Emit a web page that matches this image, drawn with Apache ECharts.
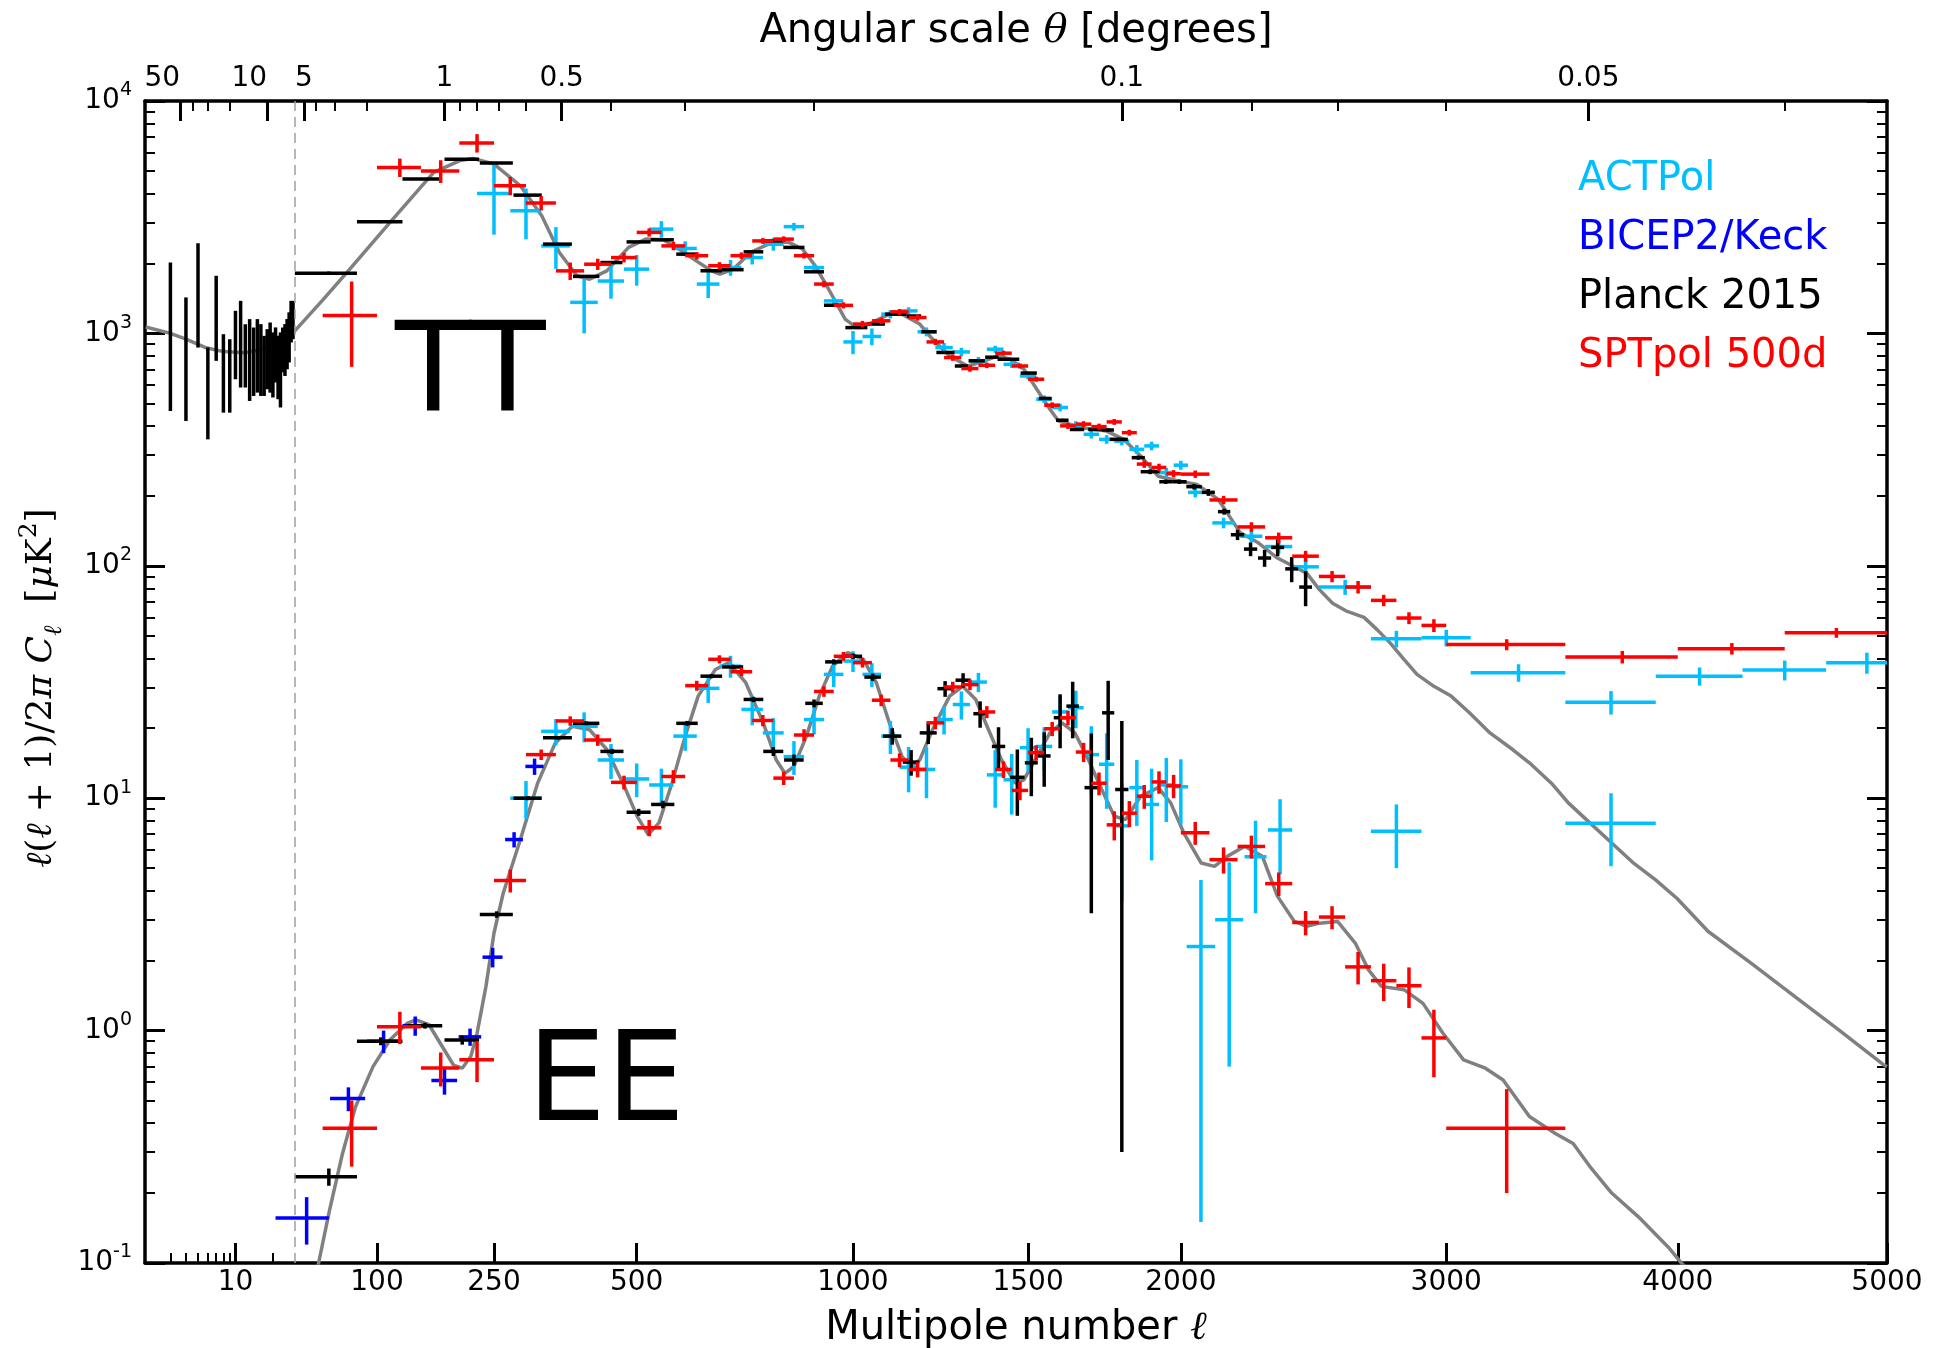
<!DOCTYPE html>
<html>
<head>
<meta charset="utf-8">
<title>CMB TT / EE band powers</title>
<script src="https://cdn.jsdelivr.net/npm/echarts@6/dist/echarts.min.js"></script>
<style>
  html, body { margin: 0; padding: 0; background: #fff; }
  #chart { width: 1934px; height: 1348px; }
</style>
</head>
<body>
<div id="chart"></div>
<script>
// ---- data: [ell, D_ell] for curves, [ell, D_ell, half bin width, sigma] for points ----
const ttTheory = [[1.9,1065],[3,1000],[4,945],[5.7,870],[8,835],[11.8,825],[15,845],[19,885],[24,950],[30,1026],[50,1390],[70.7,1829],[114,3004],[166,4931],[200,5530],[219,5663],[250,5354],[291,4318],[326,3206],[356,2230],[387,1770],[410,1711],[442,1858],[484,2344],[518,2545],[554,2528],[581,2344],[618,2088],[657,1860],[676,1798],[706,1888],[746,2230],[797,2461],[835,2476],[871,2307],[903,1954],[937,1549],[980,1150],[1010,1059],[1050,1113],[1097,1210],[1132,1210],[1181,1097],[1217,945],[1266,800],[1318,724],[1354,749],[1408,800],[1446,774],[1487,702],[1527,575],[1568,472],[1595,420],[1665,394],[1750,380],[1806,350],[1863,297],[1922,243],[1996,231],[2056,224],[2131,193],[2163,169],[2209,139],[2273,126],[2345,108],[2454,93],[2502,79],[2552,69],[2603,64],[2673,60],[2725,53],[2775,46.6],[2830,39.6],[2882,34.1],[2950,30.3],[3020,27.5],[3095,23.3],[3180,19.1],[3275,16.2],[3346,14.2],[3440,11.6],[3513,9.55],[3607,7.83],[3703,6.42],[3796,5.3],[3898,4.46],[3997,3.7],[4140,2.67],[4340,1.95],[4549,1.4],[4760,1.01],[4982,0.713],[5000,0.7]];

const eeTheory = [[44,0.085],[47,0.101],[55.6,0.169],[66.7,0.296],[78.7,0.471],[95.9,0.7],[114,0.913],[134,1.077],[144,1.113],[160,1.06],[177,0.854],[192,0.711],[204,0.689],[216,0.773],[225,0.973],[238,1.55],[250,2.63],[264,3.9],[291,6.64],[319,11.6],[349,17.3],[379,20.4],[410,19.7],[442,16.2],[476,11.2],[501,8.35],[523,6.97],[545,7.83],[572,11.6],[600,18.5],[628,27.5],[666,35.8],[696,38.3],[735,31.4],[776,21.1],[807,14.6],[828,12.8],[850,13.7],[881,18.5],[913,27.5],[947,37],[986,42.3],[1027,39.6],[1062,31.4],[1097,21.1],[1132,15.1],[1156,13.7],[1181,14.6],[1217,19.7],[1266,27.5],[1304,30.3],[1342,26.6],[1380,19.7],[1419,14.6],[1460,11.6],[1487,12],[1527,15.1],[1568,19.1],[1606,21.1],[1647,19.1],[1691,14.6],[1734,10.9],[1775,8.36],[1812,8.09],[1863,10.2],[1922,11.1],[1965,9.55],[2010,7.1],[2071,5.26],[2118,5.09],[2163,5.62],[2226,6.21],[2290,5.62],[2345,3.79],[2408,2.95],[2454,2.81],[2502,2.9],[2571,2.95],[2639,2.38],[2690,1.83],[2741,1.55],[2830,1.5],[2906,1.31],[2986,0.976],[3071,0.748],[3161,0.689],[3235,0.613],[3346,0.427],[3457,0.361],[3534,0.327],[3607,0.26],[3703,0.2],[3822,0.158],[3957,0.117],[4017,0.0998],[4100,0.085]];

const planckLowTT = [[3,1241,0,777],[4,924,0,504],[5,1656,0,787],[6,610,0,260],[7,1266,0,504],[8,724,0,268],[9,700,0,244],[10,943,0,308],[11,983,0,398],[12,840,0,255],[13,832,0,320],[14,799,0,261],[15,854,0,298],[16,817,0,279],[17,757,0,219],[18,809,0,234],[19,835,0,279],[20,770,0,240],[21,838,0,223],[22,749,0,228],[23,745,0,265],[24,870,0,190],[25,876,0,220],[26,927,0,226],[27,991,0,241],[28,1147,0,233],[29,1162,0,218]];

const planckTT = [[55,1815,25,30],[104,3020,24,40],[151,4614,23,50],[204,5610,24,60],[254,5408,25,60],[303,3935,23,45],[353,2422,25,30],[404,1759,24,25],[451,2018,21,25],[504,2476,24,25],[552,2528,24,25],[603,2193,22,22],[657,1860,24,20],[705,1880,25,20],[753,2244,23,20],[800,2501,24,22],[850,2344,26,20],[900,1841,25,18],[948,1322,23,15],[1009,1059,29,12],[1061,1097,24,12],[1115,1210,30,12],[1165,1188,20,12],[1207,1016,22,12],[1254,828,26,10],[1300,724,19,9],[1345,762,24,9],[1390,790,20,9],[1440,774,33,9],[1502,675,25,8],[1553,525,20,7],[1607,423,20,6],[1654,386,23,6],[1712,386,22,6],[1754,384,20,6],[1790,350,30,6],[1855,292,22,6],[1895,254,32,6],[1948,230,22,5],[1995,230,25,5],[2046,219,27,6],[2096,207,23,7],[2152,171,22,5],[2200,136,24,7],[2247,118,24,8],[2298,108,24,9],[2346,120,24,10],[2398,97,24,12],[2450,81,24,14]];

const planckEE = [[55,0.235,25,0.02],[104,0.9,24,0.035],[155,1.05,22,0.03],[204,0.91,24,0.04],[254,3.16,25,0.1],[303,10,23,0.2],[353,18.2,25,0.3],[404,21,24,0.4],[452,15.9,22,0.4],[504,8.7,24,0.3],[553,9.4,24,0.35],[604,21,23,0.5],[657,33.5,24,0.7],[705,36.7,24,0.8],[753,26.6,23,0.7],[800,15.9,24,0.7],[850,14.6,24,0.8],[900,25.6,22,1],[950,38.6,22,1],[1000,40.8,24,1.1],[1052,33.2,22,1.2],[1105,18.5,25,1.5],[1157,14.3,23,1.8],[1205,19.1,24,2],[1253,29.6,22,2.3],[1305,32.2,22,2.3],[1355,23.1,20,3],[1410,16.7,20,3.5],[1467,12.3,22,3.9],[1510,14.2,20,4],[1550,15.2,20,4],[1600,22.2,20,5.8],[1640,24.9,20,6.8],[1700,11.1,22,7.9],[1755,23.3,20,8.7],[1800,10.9,22,10.6]];

const sptTT = [[75,1195,25,477],[125,5180,25,470],[175,5000,25,560],[225,6600,25,600],[275,4320,25,390],[325,3640,25,260],[375,1858,25,160],[425,1985,25,110],[475,2120,25,100],[525,2720,25,110],[575,2380,25,100],[625,2160,25,80],[675,1955,25,70],[725,2160,25,70],[775,2500,25,70],[825,2545,25,70],[875,2160,25,60],[925,1630,25,50],[975,1320,25,40],[1025,1097,25,35],[1075,1133,25,35],[1125,1238,25,35],[1175,1170,25,35],[1225,919,25,28],[1275,787,25,25],[1325,706,25,22],[1375,729,25,20],[1425,822,25,20],[1475,724,25,18],[1525,635,25,16],[1575,491,25,14],[1625,400,25,12],[1675,407,25,12],[1725,397,25,12],[1775,416,25,12],[1825,374,25,11],[1875,274,25,10],[1925,265,25,10],[1975,249,25,9],[2050,248,50,9],[2150,192,50,8],[2250,147,50,7],[2350,132,50,7],[2450,110,50,6],[2550,90,50,5],[2650,81,50,5],[2750,71,50,4],[2850,59.6,50,3.5],[2950,55.4,50,3.5],[3250,45.8,250,2.5],[3750,40.5,250,2.5],[4250,44,250,2.5],[4750,51.5,250,2.5]];

const sptEE = [[75,0.38,25,0.12],[125,1.04,25,0.165],[175,0.69,25,0.115],[225,0.75,25,0.15],[275,4.43,25,0.5],[325,15.4,25,0.8],[375,21.5,25,1],[425,17.8,25,1],[475,11.7,25,0.8],[525,7.46,25,0.6],[575,12.4,25,0.8],[625,30.5,25,1.5],[675,39.6,25,1.6],[725,35,25,1.5],[775,21.6,25,1.2],[825,12.2,25,0.8],[875,18.7,25,1.1],[925,28.8,25,1.5],[975,40.8,25,1.8],[1025,38.3,25,1.8],[1075,26.4,25,1.5],[1125,14.6,25,1],[1175,13.3,25,1],[1225,21.1,25,1.3],[1275,30.1,25,1.6],[1325,30.8,25,1.6],[1375,23.5,25,1.4],[1425,13.3,25,1.1],[1475,10.8,25,1],[1525,15.7,25,1.2],[1575,19.9,25,1.4],[1625,22.2,25,1.6],[1675,15.8,25,1.5],[1725,11.6,25,1.3],[1775,7.68,25,1.1],[1825,8.62,25,1.1],[1875,10.2,25,1.2],[1925,11.75,25,1.3],[1975,11.3,25,1.3],[2050,7.1,50,0.8],[2150,5.44,50,0.7],[2250,6.2,50,0.7],[2350,4.29,50,0.5],[2450,2.92,50,0.35],[2550,3.08,50,0.35],[2650,1.88,50,0.3],[2750,1.64,50,0.3],[2850,1.56,50,0.31],[2950,0.93,50,0.3],[3250,0.38,250,0.18]];

const actTT = [[250,4000,25,1340],[300,3370,25,830],[350,2380,25,485],[400,1360,25,360],[450,1680,25,270],[500,1890,25,285],[550,2810,25,230],[600,2320,25,170],[650,1630,25,210],[700,1920,25,150],[750,2120,25,140],[800,2420,25,150],[850,2880,25,110],[900,1920,25,60],[950,1380,25,40],[1000,919,25,105],[1050,970,25,80],[1100,1210,25,50],[1150,1250,25,45],[1200,1016,25,45],[1250,869,25,40],[1300,832,25,35],[1350,762,25,30],[1400,855,25,30],[1450,736,25,25],[1500,656,25,22],[1550,521,25,20],[1600,480,25,18],[1650,403,25,16],[1700,368,25,15],[1750,350,25,15],[1800,344,25,14],[1850,317,25,14],[1900,328,25,14],[1950,252,25,12],[2000,271,25,12],[2050,207,25,10],[2150,153,40,8],[2250,134,40,8],[2350,121,50,8],[2450,99,50,7],[2600,81,100,6],[2800,48.5,100,4],[3000,49,100,4],[3300,34.7,200,3],[3700,25.9,200,3],[4100,33.5,200,3],[4500,35.6,200,3.5],[4900,38.3,200,4]];

const actEE = [[300,10,25,1.85],[350,19.4,25,2.5],[400,20.4,25,3],[450,14.6,25,2.5],[500,12.1,25,2],[550,11.4,25,2],[600,18.5,25,2.5],[650,29.7,25,4],[700,37,25,4],[750,24.1,25,3.5],[800,19.1,25,3],[850,15.1,25,2.5],[900,21.8,25,3],[950,34.1,25,4],[1000,38.9,25,4],[1050,34.1,25,4],[1100,18.5,25,3],[1150,13.6,25,3],[1200,13.3,25,3.3],[1250,21.8,25,3],[1300,25.3,25,3.5],[1350,31.6,25,3],[1400,12.6,25,3.5],[1450,12,25,3.5],[1500,16.5,25,3.5],[1550,16.7,25,3.5],[1600,23.5,25,4],[1650,24.5,25,4.5],[1700,15.4,25,5],[1750,14,25,5],[1800,7.6,25,4],[1850,11.1,25,3.5],[1900,9.4,25,4],[1950,11.4,25,3.5],[2000,11.2,25,3.5],[2070,2.3,50,2.15],[2170,3,50,2.3],[2265,5.6,40,2.4],[2355,7.3,45,2.6],[2800,7.2,100,2.2],[3700,7.8,200,2.7]];

const bkEE = [[38,0.156,17,0.036],[72,0.51,16,0.06],[107,0.9,17,0.1],[143,1.05,15,0.1],[180,0.61,17,0.08],[215,0.94,16,0.08],[248,2.07,15,0.2],[281,6.64,14,0.5],[314,13.7,15,1.1]];

// ---- tick values ----
const ellMajor = [10, 100, 250, 500, 1000, 1500, 2000, 3000, 4000, 5000];
const ellMinor = [3, 4, 5, 6, 7, 8, 9, 20];
const thetaMajor = [50, 10, 5, 1, 0.5, 0.1, 0.05];
const thetaMinor = [40, 30, 20, 4, 3, 2, 0.9, 0.8, 0.7, 0.6, 0.4, 0.3, 0.2, 0.09, 0.08, 0.07, 0.06, 0.04];
// these two top labels sit left of their tick, as in the original figure
const thetaShifted = [50, 10];
const decadeMinor = [];
for (let e = -1; e < 4; e++) {
  for (let k = 2; k <= 9; k++) decadeMinor.push(Math.log10(k) + e);
}

// x axis is log(ell) below ell = 30 and ell^0.6 above it
const L_SPLIT = 30;
const POW = 0.6;
const LOG_GAIN = 12.35;
function lToU(l) {
  const uSplit = Math.pow(L_SPLIT, POW);
  return l >= L_SPLIT ? Math.pow(l, POW) : uSplit + LOG_GAIN * Math.log10(l / L_SPLIT);
}
const thetaToU = (t) => lToU(180 / t);
const U_MIN = lToU(1.875);
const U_MAX = lToU(5000);

const FONT = 'DejaVu Sans';
const MATH = 'DejaVu Serif';
const LW = 3.5;

function pickTick(values, toU, v) {
  return values.find((t) => Math.abs(toU(t) - v) < 1e-6);
}

function errorBars(name, rows, color, z) {
  return {
    name: name,
    type: 'custom',
    z: z,
    clip: true,
    silent: true,
    encode: { x: 0, y: 1 },
    data: rows.map(([l, d, dl, s]) => [lToU(l), d, lToU(l - dl), lToU(l + dl), d - s, d + s]),
    renderItem: (params, api) => {
      const u = api.value(0);
      const d = api.value(1);
      const kids = [];
      const style = { stroke: color, lineWidth: LW, lineCap: 'butt' };
      if (api.value(3) > api.value(2)) {
        const a = api.coord([api.value(2), d]);
        const b = api.coord([api.value(3), d]);
        kids.push({ type: 'line', shape: { x1: a[0], y1: a[1], x2: b[0], y2: b[1] }, style: style });
      }
      if (api.value(5) > api.value(4)) {
        const a = api.coord([u, Math.max(api.value(4), 0.01)]);
        const b = api.coord([u, api.value(5)]);
        kids.push({ type: 'line', shape: { x1: a[0], y1: a[1], x2: b[0], y2: b[1] }, style: style });
      }
      return { type: 'group', children: kids };
    }
  };
}

const chart = echarts.init(document.getElementById('chart'));

const black = '#000';
const tickMajor = { inside: true, length: 20, lineStyle: { color: black, width: 3 } };
const tickMinor = { inside: true, length: 10, lineStyle: { color: black, width: 2 } };

chart.setOption({
  animation: false,
  backgroundColor: '#fff',
  grid: { left: 145, right: 47, top: 101, bottom: 85, outerBoundsMode: 'none' },
  legend: {
    orient: 'vertical',
    left: 1573,
    top: 160,
    padding: 0,
    itemWidth: 0,
    itemHeight: 0,
    itemGap: 19,
    selectedMode: false,
    textStyle: { fontFamily: FONT, fontSize: 40 },
    data: [
      { name: 'ACTPol', textStyle: { color: '#00BFFF' } },
      { name: 'BICEP2/Keck', textStyle: { color: '#0000FF' } },
      { name: 'Planck 2015', textStyle: { color: '#000000' } },
      { name: 'SPTpol 500d', textStyle: { color: '#FF0000' } }
    ]
  },
  xAxis: [
    {
      type: 'value', position: 'bottom', min: U_MIN, max: U_MAX,
      name: '{t|Multipole number }{i|ℓ}', nameLocation: 'middle', nameGap: 46,
      nameTextStyle: {
        rich: {
          t: { fontFamily: FONT, fontSize: 40, color: black },
          i: { fontFamily: MATH, fontStyle: 'italic', fontSize: 40, color: black }
        }
      },
      axisLine: { onZero: false, lineStyle: { color: black, width: 3.5 } },
      axisTick: Object.assign({ customValues: ellMajor.map(lToU) }, tickMajor),
      axisLabel: {
        customValues: ellMajor.map(lToU),
        formatter: (v) => String(pickTick(ellMajor, lToU, v) ?? ''),
        margin: 6, fontFamily: FONT, fontSize: 28, color: black,
        showMinLabel: true, showMaxLabel: true
      },
      splitLine: { show: false }
    },
    {
      type: 'value', position: 'bottom', min: U_MIN, max: U_MAX,
      axisLine: { show: false, onZero: false },
      axisTick: Object.assign({ customValues: ellMinor.map(lToU) }, tickMinor),
      axisLabel: { show: false },
      splitLine: { show: false }
    },
    {
      type: 'value', position: 'top', min: U_MIN, max: U_MAX,
      name: 'Angular scale {i|θ} [degrees]', nameLocation: 'middle', nameGap: 49,
      nameTextStyle: {
        fontFamily: FONT, fontSize: 40, color: black,
        rich: { i: { fontFamily: MATH, fontStyle: 'italic', fontSize: 40, color: black } }
      },
      axisLine: { onZero: false, lineStyle: { color: black, width: 3.5 } },
      axisTick: Object.assign({ customValues: thetaMajor.map(thetaToU) }, tickMajor),
      axisLabel: {
        customValues: thetaMajor.map(thetaToU),
        formatter: (v) => {
          const t = pickTick(thetaMajor, thetaToU, v);
          if (t === undefined) return '';
          return thetaShifted.includes(t) ? '{l|' + t + '}' : String(t);
        },
        margin: 8, fontFamily: FONT, fontSize: 28, color: black,
        showMinLabel: true, showMaxLabel: true,
        rich: { l: { fontFamily: FONT, fontSize: 28, color: black, padding: [0, 36, 0, 0] } }
      },
      splitLine: { show: false }
    },
    {
      type: 'value', position: 'top', min: U_MIN, max: U_MAX,
      axisLine: { show: false, onZero: false },
      axisTick: Object.assign({ customValues: thetaMinor.map(thetaToU) }, tickMinor),
      axisLabel: { show: false },
      splitLine: { show: false }
    }
  ],
  yAxis: [
    {
      type: 'log', logBase: 10, min: 0.1, max: 10000, position: 'left',
      name: '{i|ℓ}{r|(}{i|ℓ}{r| + 1)/2}{i|π C}{sub|ℓ}{r|  [}{i|μ}{r|K}{sup|2}{r|]}{p|}',
      nameLocation: 'middle', nameRotate: 90, nameGap: 77,
      nameTextStyle: {
        rich: {
          r: { fontFamily: MATH, fontSize: 36, lineHeight: 50, color: black },
          i: { fontFamily: MATH, fontStyle: 'italic', fontSize: 36, lineHeight: 50, color: black },
          sub: { fontFamily: MATH, fontStyle: 'italic', fontSize: 25, lineHeight: 34, verticalAlign: 'bottom', color: black },
          sup: { fontFamily: MATH, fontSize: 25, lineHeight: 30, verticalAlign: 'top', color: black },
          p: { width: 12 }
        }
      },
      axisLine: { onZero: false, lineStyle: { color: black, width: 3.5 } },
      axisTick: tickMajor,
      axisLabel: {
        formatter: (v) => '{b|10}{s|' + Math.round(Math.log10(v)) + '}',
        margin: 13, showMinLabel: true, showMaxLabel: true,
        rich: {
          b: { fontFamily: FONT, fontSize: 28, lineHeight: 40, color: black },
          s: { fontFamily: FONT, fontSize: 19, lineHeight: 24, verticalAlign: 'top', color: black }
        }
      },
      splitLine: { show: false },
      minorTick: { show: false }
    },
    {
      type: 'log', logBase: 10, min: 0.1, max: 10000, position: 'right',
      axisLine: { onZero: false, lineStyle: { color: black, width: 3.5 } },
      axisTick: tickMajor,
      axisLabel: { show: false },
      splitLine: { show: false }
    },
    {
      type: 'value', min: -1, max: 4, position: 'left',
      axisLine: { show: false, onZero: false },
      axisTick: Object.assign({ customValues: decadeMinor }, tickMinor),
      axisLabel: { show: false },
      splitLine: { show: false }
    },
    {
      type: 'value', min: -1, max: 4, position: 'right',
      axisLine: { show: false, onZero: false },
      axisTick: Object.assign({ customValues: decadeMinor }, tickMinor),
      axisLabel: { show: false },
      splitLine: { show: false }
    }
  ],
  graphic: [
    { type: 'text', x: 395, y: 379, silent: true,
      style: { text: 'TT', font: '125px "DejaVu Sans"', fill: black, align: 'left', verticalAlign: 'middle' } },
    { type: 'text', x: 527, y: 1088, silent: true,
      style: { text: 'EE', font: '125px "DejaVu Sans"', fill: black, align: 'left', verticalAlign: 'middle' } }
  ],
  series: [
    {
      name: 'theory TT', type: 'line', z: 1, showSymbol: false, silent: true,
      data: ttTheory.map(([l, d]) => [lToU(l), d]),
      lineStyle: { color: '#808080', width: LW },
      markLine: {
        silent: true, symbol: ['none', 'none'], label: { show: false },
        lineStyle: { color: '#a0a0a0', width: 1.5, type: [10, 6] },
        data: [{ xAxis: lToU(L_SPLIT) }]
      }
    },
    {
      name: 'theory EE', type: 'line', z: 1, showSymbol: false, silent: true,
      data: eeTheory.map(([l, d]) => [lToU(l), d]),
      lineStyle: { color: '#808080', width: LW }
    },
    errorBars('ACTPol', actTT, '#00BFFF', 2),
    errorBars('ACTPol', actEE, '#00BFFF', 2),
    errorBars('BICEP2/Keck', bkEE, '#0000FF', 3),
    errorBars('Planck 2015', planckLowTT, '#000000', 4),
    errorBars('Planck 2015', planckTT, '#000000', 4),
    errorBars('Planck 2015', planckEE, '#000000', 4),
    errorBars('SPTpol 500d', sptTT, '#FF0000', 5),
    errorBars('SPTpol 500d', sptEE, '#FF0000', 5)
  ]
});
</script>
</body>
</html>
